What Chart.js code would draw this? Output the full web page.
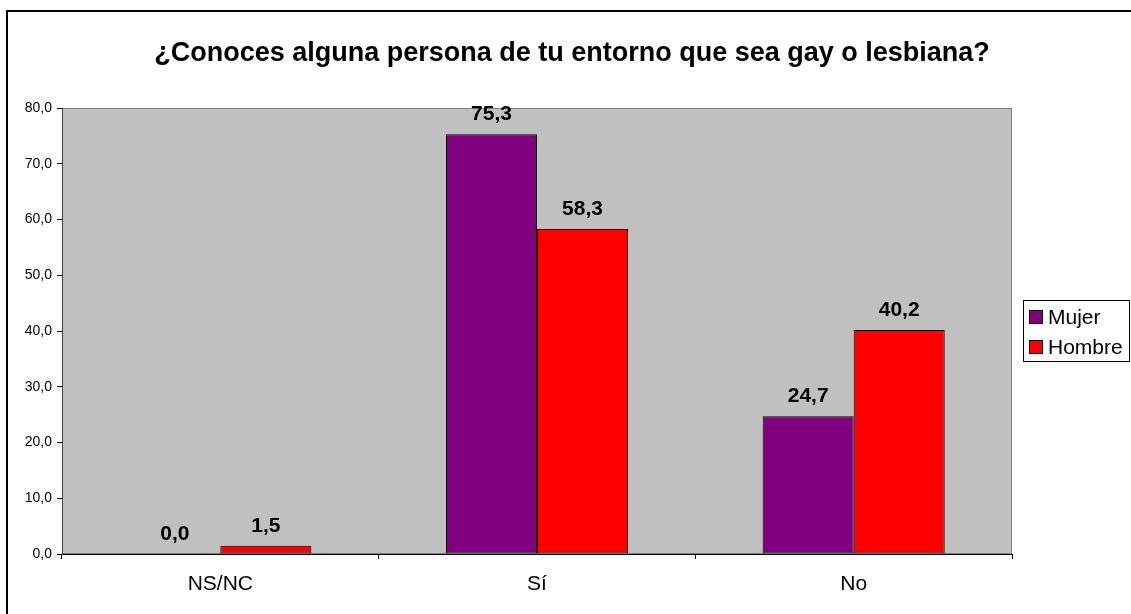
<!DOCTYPE html>
<html>
<head>
<meta charset="utf-8">
<script src="https://cdn.jsdelivr.net/npm/chart.js@4/dist/chart.umd.min.js"></script>
<style>
  html, body { margin: 0; padding: 0; background: #fff; }
  #wrap { width: 1131px; height: 614px; position: relative; }
</style>
</head>
<body>
<div id="wrap"><canvas id="chart"></canvas></div>
<script>
// ==================== Data ====================
const chartTitle = '¿Conoces alguna persona de tu entorno que sea gay o lesbiana?';
const categories = ['NS/NC', 'Sí', 'No'];
const seriesNames = ['Mujer', 'Hombre'];
const mujer = [0.0, 75.3, 24.7];
const hombre = [1.5, 58.3, 40.2];
const seriesColors = ['#800080', '#FF0000'];
const yTicks = [0, 10, 20, 30, 40, 50, 60, 70, 80];

const FONT = 'Arial, "Liberation Sans", sans-serif';

function fmt(v) {
  return v.toFixed(1).replace('.', ',');
}

// ==================== Plugins ====================
const frame = {
  id: 'frame',
  beforeDraw(chart) {
    const { ctx, chartArea: a } = chart;
    ctx.save();
    // plot background
    ctx.fillStyle = '#C0C0C0';
    ctx.fillRect(a.left, a.top, a.right - a.left, a.bottom - a.top);
    ctx.strokeStyle = '#808080';
    ctx.lineWidth = 1;
    ctx.strokeRect(a.left + 0.5, a.top + 0.5, a.right - a.left - 1, a.bottom - a.top - 1);
    // outer border
    ctx.strokeStyle = '#000';
    ctx.lineWidth = 2;
    ctx.beginPath();
    ctx.moveTo(7, chart.height + 5);
    ctx.lineTo(7, 11);
    ctx.lineTo(chart.width + 5, 11);
    ctx.stroke();
    // title
    ctx.fillStyle = '#000';
    ctx.font = 'bold 27px ' + FONT;
    ctx.textAlign = 'center';
    ctx.textBaseline = 'middle';
    ctx.fillText(chartTitle, 572, 54);
    ctx.restore();
  },
  afterDatasetsDraw(chart) {
    const { ctx } = chart;
    ctx.save();
    ctx.font = 'bold 21px ' + FONT;
    ctx.fillStyle = '#000';
    ctx.textAlign = 'center';
    ctx.textBaseline = 'alphabetic';
    chart.data.datasets.forEach((ds, i) => {
      chart.getDatasetMeta(i).data.forEach((bar, j) => {
        ctx.fillText(fmt(ds.data[j]), bar.x, bar.y - 14);
      });
    });
    // legend
    const lx = 1023, ly = 300, lw = 106, lh = 61;
    ctx.fillStyle = '#fff';
    ctx.fillRect(lx, ly, lw, lh);
    ctx.strokeStyle = '#000';
    ctx.lineWidth = 1;
    ctx.strokeRect(lx + 0.5, ly + 0.5, lw, lh);
    ctx.font = '21px ' + FONT;
    ctx.textAlign = 'left';
    ctx.textBaseline = 'middle';
    chart.data.datasets.forEach((ds, i) => {
      const y = ly + 17 + i * 30;
      ctx.fillStyle = ds.backgroundColor;
      ctx.fillRect(lx + 6, y - 7, 14, 14);
      ctx.strokeStyle = '#000';
      ctx.strokeRect(lx + 6.5, y - 6.5, 13, 13);
      ctx.fillStyle = '#000';
      ctx.fillText(ds.label, lx + 25, y + 1);
    });
    ctx.restore();
  }
};

// ==================== Chart ====================
new Chart(document.getElementById('chart'), {
  type: 'bar',
  data: {
    labels: categories,
    datasets: [
      { label: seriesNames[0], data: mujer, backgroundColor: seriesColors[0],
        borderColor: '#000', borderWidth: 1, borderSkipped: false },
      { label: seriesNames[1], data: hombre, backgroundColor: seriesColors[1],
        borderColor: '#000', borderWidth: 1, borderSkipped: false }
    ]
  },
  options: {
    responsive: true,
    maintainAspectRatio: false,
    animation: false,
    devicePixelRatio: 1,
    categoryPercentage: 0.575,
    barPercentage: 1,
    layout: { padding: { left: 8, right: 119, top: 108, bottom: 0 } },
    plugins: {
      legend: { display: false },
      tooltip: { enabled: false }
    },
    scales: {
      x: {
        afterFit(scale) { scale.height = 60; },
        grid: { offset: true, drawOnChartArea: false, color: '#000', tickLength: 5 },
        border: { color: '#000', width: 1 },
        ticks: { color: '#000', font: { family: FONT, size: 21 }, padding: 13 }
      },
      y: {
        min: 0,
        max: 80,
        afterFit(scale) { scale.width = 54; },
        afterBuildTicks(scale) { scale.ticks = yTicks.map(v => ({ value: v })); },
        grid: { drawOnChartArea: false, color: '#000', tickLength: 5 },
        border: { color: '#404040', width: 1 },
        ticks: {
          color: '#000',
          font: { family: FONT, size: 14 },
          padding: 5,
          callback: v => fmt(v)
        }
      }
    }
  },
  plugins: [frame]
});
</script>
</body>
</html>
